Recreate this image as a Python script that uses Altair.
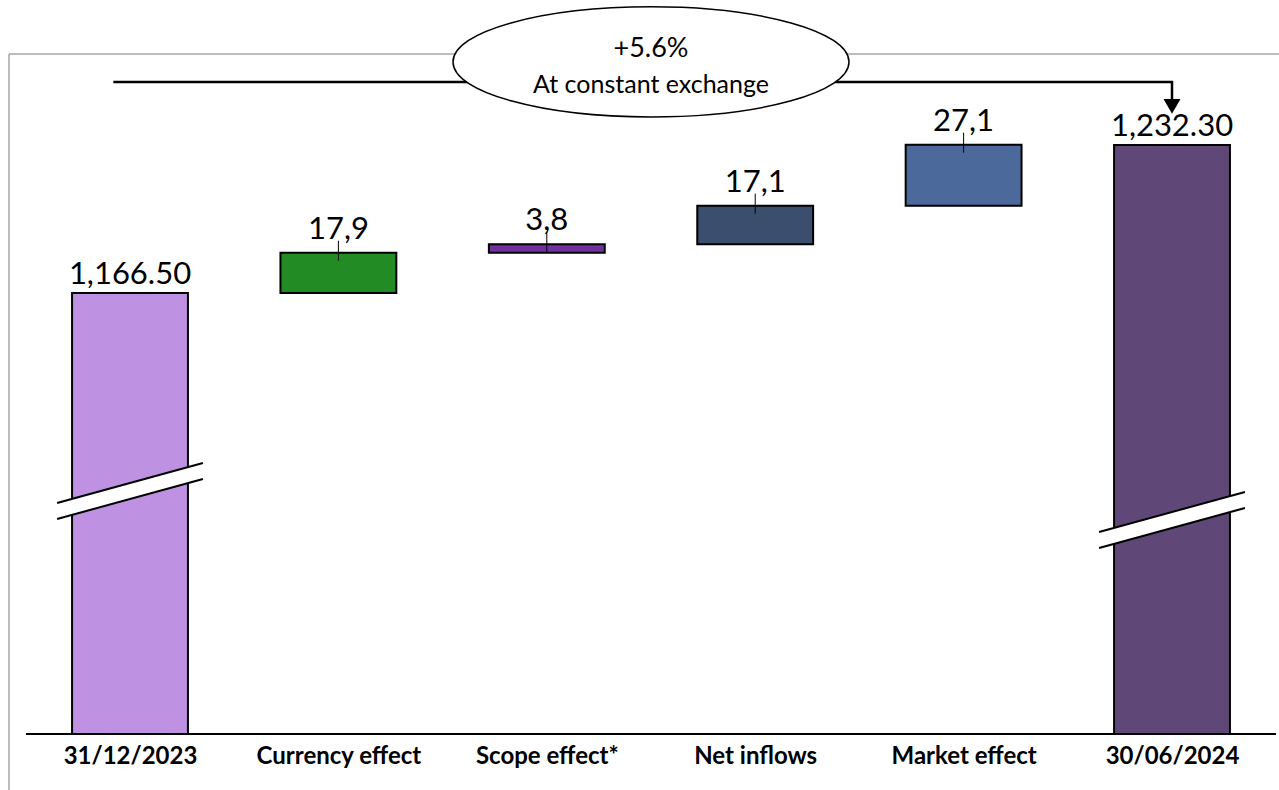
import json

import altair as alt
import pandas as pd

# ---- data -----------------------------------------------------------------
categories = ["31/12/2023", "Currency effect", "Scope effect*", "Net inflows", "Market effect", "30/06/2024"]
kinds = ["total", "step", "step", "step", "step", "total"]
values = [1166.5, 17.9, 3.8, 17.1, 27.1, 1232.3]
colors = ["#BF91E3", "#238B23", "#7030A0", "#3B4E6E", "#4B6A9B", "#5F4878"]
growth_label = "+5.6%"
growth_note = "At constant exchange"

# ---- layout constants -------------------------------------------------------
W, H = 1270, 680
AXIS_FLOOR = 970.5          # bottom of the broken value axis
Y_TOP = 1272.7
X_DOMAIN = [-0.5806, 5.5134]
BAR_HALF = 0.278
FONT = "Lato"

# break marks on the two total bars: band centre (value units) per bar index
BREAKS = {0: 1078.5, 5: 1065.6}
BREAK_HALF_SPAN = 0.35      # x half-length of the slanted cut lines
BREAK_RISE = 17.8           # vertical rise of a cut line across its span
BREAK_GAP = 7.1             # distance between the two cut lines

# ---- waterfall geometry ----------------------------------------------------
rows = []
running = 0.0
for i, (cat, kind, v) in enumerate(zip(categories, kinds, values)):
    if kind == "total":
        bottom, top = AXIS_FLOOR, v
        running = v
        label = f"{v:,.2f}"
    else:
        bottom, top = running, running + v
        running = top
        label = f"{v:.1f}".replace(".", ",")
    rows.append(dict(category=cat, kind=kind, pos=i, x0=i - BAR_HALF, x1=i + BAR_HALF,
                     bottom=bottom, top=top, label=label))
bars_df = pd.DataFrame(rows)

band_rows, line_rows = [], []
for idx, mid in BREAKS.items():
    for side, sgn in (("L", -1), ("R", 1)):
        lo = mid - BREAK_GAP / 2 + sgn * BREAK_RISE / 2
        hi = mid + BREAK_GAP / 2 + sgn * BREAK_RISE / 2
        x = idx + sgn * BREAK_HALF_SPAN
        band_rows.append(dict(band=idx, pos=x, lo=lo, hi=hi))
        line_rows.append(dict(line=f"{idx}-lo", pos=x, y=lo))
        line_rows.append(dict(line=f"{idx}-hi", pos=x, y=hi))
band_df = pd.DataFrame(band_rows)
cut_df = pd.DataFrame(line_rows)

final_idx = len(categories) - 1
bracket_level = 1260.3
arrow_tip = 1249.4
bracket_df = pd.DataFrame(dict(
    pos=[-0.08, final_idx, final_idx],
    y=[bracket_level, bracket_level, arrow_tip],
    order=[0, 1, 2],
))
arrow_df = pd.DataFrame(dict(pos=[final_idx], y=[arrow_tip]))
bubble_df = pd.DataFrame(dict(pos=[2.5], y=[1269.2]))
one = pd.DataFrame(dict(a=[0]))

# ---- scales / axis ---------------------------------------------------------
xs = alt.Scale(domain=X_DOMAIN, nice=False, zero=False)
ys = alt.Scale(domain=[AXIS_FLOOR, Y_TOP], nice=False, zero=False)
x_axis = alt.Axis(
    values=list(range(len(categories))),
    labelExpr=f"{json.dumps(categories)}[datum.value]",
    ticks=False, tickSize=0, domain=False, grid=False, title=None,
    labelFont=FONT, labelFontWeight="bold", labelFontSize=24, labelColor="black",
    labelPadding=29, labelBaseline="alphabetic", labelFlush=False, labelOverlap=False,
)


def X(field):
    return alt.X(field, type="quantitative", scale=xs, axis=x_axis)


def Y(field):
    return alt.Y(field, type="quantitative", scale=ys, axis=None)


# ---- layers ----------------------------------------------------------------
frame_top = alt.Chart(one).mark_rule(color="#A6A6A6", strokeWidth=1.5).encode(
    x=alt.value(0), x2=alt.value(W), y=alt.value(0))
frame_left = alt.Chart(one).mark_rule(color="#A6A6A6", strokeWidth=1.5).encode(
    x=alt.value(0), y=alt.value(0), y2=alt.value(H + 56))

bars = alt.Chart(bars_df).mark_bar(stroke="black", strokeWidth=2).encode(
    x=X("x0"), x2="x1:Q", y=Y("top"), y2="bottom:Q",
    color=alt.Color("category:N", scale=alt.Scale(domain=categories, range=colors), legend=None),
)

bands = alt.Chart(band_df).mark_area(color="white", opacity=1).encode(
    x=X("pos"), y=Y("lo"), y2="hi:Q", detail="band:N")

cuts = alt.Chart(cut_df).mark_line(color="black", strokeWidth=2).encode(
    x=X("pos"), y=Y("y"), detail="line:N")

baseline = alt.Chart(one).mark_rule(color="black", strokeWidth=2).encode(
    x=alt.value(17), x2=alt.value(W - 3), y=alt.value(H))

steps = bars_df[bars_df.kind == "step"]
totals = bars_df[bars_df.kind == "total"]

stubs = alt.Chart(steps).mark_rule(color="black", strokeWidth=1, yOffset=-12, y2Offset=8).encode(
    x=X("pos"), y=Y("top"), y2="top:Q")

step_labels = alt.Chart(steps).mark_text(font=FONT, fontSize=31, baseline="alphabetic", dy=-14,
                                         color="black").encode(
    x=X("pos"), y=Y("top"), text="label:N")
total_labels = alt.Chart(totals).mark_text(font=FONT, fontSize=31, baseline="alphabetic", dy=-9,
                                           color="black").encode(
    x=X("pos"), y=Y("top"), text="label:N")

bracket = alt.Chart(bracket_df).mark_line(color="black", strokeWidth=2.5).encode(
    x=X("pos"), y=Y("y"), order="order:Q")

arrow = alt.Chart(arrow_df).mark_point(shape="triangle-down", size=289, filled=True,
                                       color="black", opacity=1).encode(x=X("pos"), y=Y("y"))

ellipse_path = "M-1,0A1,0.278,0,1,0,1,0A1,0.278,0,1,0,-1,0Z"
bubble = alt.Chart(bubble_df).mark_point(shape=ellipse_path, size=396 ** 2, filled=True,
                                         fill="white", stroke="black", strokeWidth=1.5,
                                         opacity=1).encode(x=X("pos"), y=Y("y"))
bubble_top = alt.Chart(bubble_df).mark_text(text=growth_label, font=FONT, fontSize=27,
                                            baseline="alphabetic", dy=-5, color="black").encode(
    x=X("pos"), y=Y("y"))
bubble_note = alt.Chart(bubble_df).mark_text(text=growth_note, font=FONT, fontSize=25,
                                             baseline="alphabetic", dy=31, color="black").encode(
    x=X("pos"), y=Y("y"))

chart = alt.layer(
    frame_top, frame_left, bars, bands, cuts, baseline, stubs, step_labels, total_labels,
    bracket, bubble, bubble_top, bubble_note, arrow,
).properties(
    width=W, height=H,
    autosize=alt.AutoSizeParams(type="none"),
    padding={"left": 9, "top": 54, "right": 0, "bottom": 56},
    background="white",
).configure_view(stroke=None)

chart.save("out.html", embed_options={"renderer": "svg", "actions": False})
